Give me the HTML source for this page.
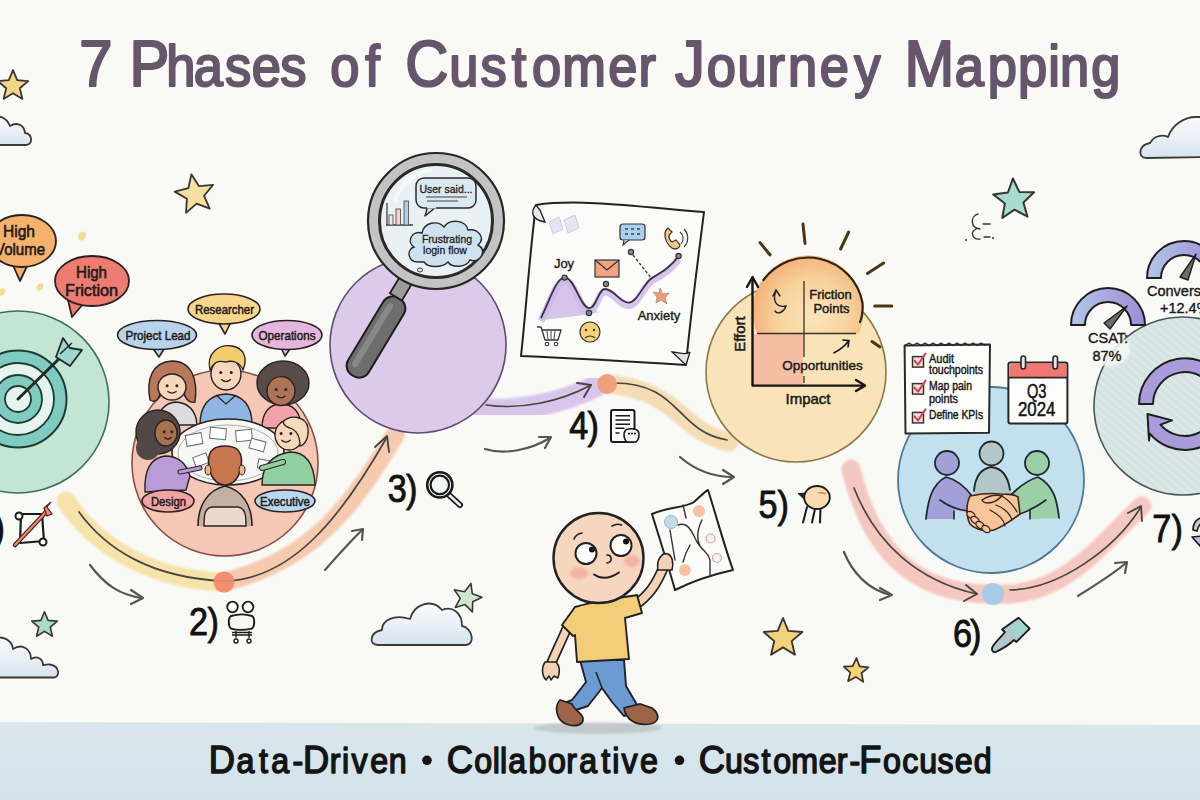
<!DOCTYPE html>
<html><head><meta charset="utf-8"><title>7 Phases of Customer Journey Mapping</title>
<style>
html,body{margin:0;padding:0;background:#f9f9f5;}
body{width:1200px;height:800px;overflow:hidden;font-family:"Liberation Sans",sans-serif;}
svg{display:block;}
svg text{font-family:"Liberation Sans",sans-serif;}
</style></head>
<body>
<svg width="1200" height="800" viewBox="0 0 1200 800">
<defs>
  <pattern id="hatch" width="6" height="6" patternUnits="userSpaceOnUse" patternTransform="rotate(-50)"><rect width="6" height="6" fill="none"/><rect width="1.6" height="6" fill="#ffffff" opacity="0.5"/></pattern>
  <linearGradient id="cloudg" x1="0" y1="0" x2="0" y2="1"><stop offset="0" stop-color="#f8fafc"/><stop offset="0.55" stop-color="#e8eff5"/><stop offset="1" stop-color="#d6e3ee"/></linearGradient>
  <filter id="soft" x="-20%" y="-20%" width="140%" height="140%"><feGaussianBlur stdDeviation="1.2"/></filter>
  <linearGradient id="band" x1="0" y1="0" x2="0" y2="1">
    <stop offset="0" stop-color="#d9e7ec"/>
    <stop offset="0.5" stop-color="#d6e5eb"/>
    <stop offset="1" stop-color="#d3e3ea"/>
  </linearGradient>
</defs>
<rect x="0" y="0" width="1200" height="800" fill="#f9f9f5"/>
<path d="M0,722 L1200,725 L1200,800 L0,800 Z" fill="url(#band)"/>
<text transform="scale(0.92,1)" y="86" fill="#66566c" stroke="#66566c" stroke-width="2.2" stroke-linejoin="round"><tspan x="86.13" font-size="65">7</tspan></text>
<text transform="scale(0.92,1)" y="86" fill="#66566c" stroke="#66566c" stroke-width="2.2" stroke-linejoin="round"><tspan x="140.65" font-size="65">P</tspan><tspan x="180.63" font-size="57">h</tspan><tspan x="210.60" font-size="57">a</tspan><tspan x="244.57" font-size="57">s</tspan><tspan x="273.55" font-size="57">e</tspan><tspan x="304.52" font-size="57">s</tspan></text>
<text transform="scale(0.92,1)" y="86" fill="#66566c" stroke="#66566c" stroke-width="2.2" stroke-linejoin="round"><tspan x="358.87" font-size="57">o</tspan><tspan x="397.04" font-size="57">f</tspan></text>
<text transform="scale(0.92,1)" y="86" fill="#66566c" stroke="#66566c" stroke-width="2.2" stroke-linejoin="round"><tspan x="440.48" font-size="65">C</tspan><tspan x="488.40" font-size="57">u</tspan><tspan x="522.33" font-size="57">s</tspan><tspan x="556.25" font-size="57">t</tspan><tspan x="578.18" font-size="57">o</tspan><tspan x="611.11" font-size="57">m</tspan><tspan x="661.03" font-size="57">e</tspan><tspan x="693.96" font-size="57">r</tspan></text>
<text transform="scale(0.92,1)" y="86" fill="#66566c" stroke="#66566c" stroke-width="2.2" stroke-linejoin="round"><tspan x="733.78" font-size="65">J</tspan><tspan x="768.24" font-size="57">o</tspan><tspan x="801.70" font-size="57">u</tspan><tspan x="834.15" font-size="57">r</tspan><tspan x="856.61" font-size="57">n</tspan><tspan x="891.07" font-size="57">e</tspan><tspan x="928.52" font-size="57">y</tspan></text>
<text transform="scale(0.92,1)" y="86" fill="#66566c" stroke="#66566c" stroke-width="2.2" stroke-linejoin="round"><tspan x="983.04" font-size="65">M</tspan><tspan x="1037.89" font-size="57">a</tspan><tspan x="1073.74" font-size="57">p</tspan><tspan x="1106.59" font-size="57">p</tspan><tspan x="1139.43" font-size="57">i</tspan><tspan x="1152.28" font-size="57">n</tspan><tspan x="1186.13" font-size="57">g</tspan></text>
<path d="M66,501 C95,545 150,580 224,582" fill="none" stroke="#f6e09c" stroke-width="19" stroke-linecap="round" opacity="0.85" filter="url(#soft)"/>
<path d="M224,582 C309,561 350,511 395,435" fill="none" stroke="#f6c2a2" stroke-width="19" stroke-linecap="round" opacity="0.85" filter="url(#soft)"/>
<path d="M79,512 C105,548 150,578 224,581 C290,580 340,520 387,437" fill="none" stroke="#4a4440" stroke-width="1.7" stroke-linecap="round"/>
<path d="M375,447 L387,436 L389,452" fill="none" stroke="#4a4440" stroke-width="1.9" stroke-linecap="round" stroke-linejoin="round"/>
<path d="M470,408 C510,414 560,405 600,384" fill="none" stroke="#d3bde9" stroke-width="22" stroke-linecap="round" opacity="0.85" filter="url(#soft)"/>
<path d="M486,405 C520,410 560,402 591,385" fill="none" stroke="#4a4440" stroke-width="1.7" stroke-linecap="round"/>
<path d="M577,383 L591,385 L584,397" fill="none" stroke="#4a4440" stroke-width="1.9" stroke-linecap="round" stroke-linejoin="round"/>
<path d="M607,384 C680,390 681,433 729,442" fill="none" stroke="#f3d9ab" stroke-width="19" stroke-linecap="round" opacity="0.85" filter="url(#soft)"/>
<path d="M612,383 C681,382 675,431 727,440" fill="none" stroke="#4a4440" stroke-width="1.7" stroke-linecap="round"/>
<path d="M851,469 C868,540 906,595 994,594" fill="none" stroke="#f4c0b8" stroke-width="19" stroke-linecap="round" opacity="0.85" filter="url(#soft)"/>
<path d="M994,594 C1063,599 1100,544 1142,506" fill="none" stroke="#f4c0b8" stroke-width="19" stroke-linecap="round" opacity="0.85" filter="url(#soft)"/>
<path d="M854,488 C876,544 918,581 977,594" fill="none" stroke="#4a4440" stroke-width="1.7" stroke-linecap="round"/>
<path d="M966,585 L977,594 L964,601" fill="none" stroke="#4a4440" stroke-width="1.9" stroke-linecap="round" stroke-linejoin="round"/>
<path d="M1010,590 C1059,589 1115,549 1141,507" fill="none" stroke="#4a4440" stroke-width="1.7" stroke-linecap="round"/>
<path d="M1128,513 L1141,506 L1142,521" fill="none" stroke="#4a4440" stroke-width="1.9" stroke-linecap="round" stroke-linejoin="round"/>
<circle cx="18" cy="402" r="91" fill="#c3e5d4" stroke="#3f6e5e" stroke-width="1.6"/>
<circle cx="225" cy="463" r="93" fill="#f5c8b5" stroke="#8c4c42" stroke-width="1.6"/>
<circle cx="418" cy="345" r="88" fill="#dccaea" stroke="#5f4a78" stroke-width="1.6"/>
<circle cx="796" cy="372" r="90" fill="#f8e4b8" stroke="#8a7848" stroke-width="1.6"/>
<circle cx="991" cy="480" r="93" fill="#c3e0ef" stroke="#4f7896" stroke-width="1.8"/>
<circle cx="1183" cy="406" r="89" fill="#d5e3e3"/><circle cx="1183" cy="406" r="89" fill="url(#hatch)" opacity="0.5"/><circle cx="1183" cy="406" r="89" fill="none" stroke="#46585a" stroke-width="1.6"/>
<circle cx="224" cy="582" r="10.5" fill="#f08a70" opacity="0.95"/>
<circle cx="607" cy="384" r="10" fill="#f0a07c"/>
<circle cx="993" cy="594" r="11" fill="#a8cbe6"/>
<circle cx="18" cy="399" r="48.5" fill="#7fcbbf" stroke="#1f3a35" stroke-width="2"/>
<circle cx="18" cy="399" r="36" fill="#e6f4ee" stroke="#1f3a35" stroke-width="1.8"/>
<circle cx="18" cy="399" r="24" fill="#7fcbbf" stroke="#1f3a35" stroke-width="1.8"/>
<circle cx="18" cy="399" r="13" fill="#e6f4ee" stroke="#1f3a35" stroke-width="1.8"/>
<line x1="18" y1="399" x2="66" y2="352" stroke="#1f2a28" stroke-width="3" stroke-linecap="round"/>
<path d="M56,357 L63,338 L70,348 L82,350 L70,366 Z" fill="#9fd6cc" stroke="#1f2a28" stroke-width="1.8" stroke-linejoin="round"/>
<path d="M60,354 L72,343" stroke="#1f2a28" stroke-width="1.5"/>
<path d="M12,263 L20,281 L28,264 Z" fill="#f6b26c" stroke="#2a2220" stroke-width="1.8" stroke-linejoin="round"/>
<ellipse cx="22" cy="241" rx="34" ry="26" fill="#f6b26c" stroke="#2a2220" stroke-width="1.8"/>
<path d="M13,260 L27,261" stroke="#f6b26c" stroke-width="5"/>
<text x="19" y="237" font-size="16" fill="#231c18" text-anchor="middle" stroke="#231c18" stroke-width="0.6" stroke-linejoin="round" textLength="32" lengthAdjust="spacingAndGlyphs">High</text>
<text x="20" y="255" font-size="16" fill="#231c18" text-anchor="middle" stroke="#231c18" stroke-width="0.6" stroke-linejoin="round" textLength="50" lengthAdjust="spacingAndGlyphs">Volume</text>
<path d="M68,300 L72,317 L84,303 Z" fill="#ee7c72" stroke="#2a2220" stroke-width="1.8" stroke-linejoin="round"/>
<ellipse cx="92" cy="281" rx="37" ry="25" fill="#ee7c72" stroke="#2a2220" stroke-width="1.8"/>
<path d="M69,297 L83,300" stroke="#ee7c72" stroke-width="5"/>
<text x="91.5" y="278" font-size="16" fill="#231c18" text-anchor="middle" stroke="#231c18" stroke-width="0.6" stroke-linejoin="round" textLength="31" lengthAdjust="spacingAndGlyphs">High</text>
<text x="91.5" y="296" font-size="16" fill="#231c18" text-anchor="middle" stroke="#231c18" stroke-width="0.6" stroke-linejoin="round" textLength="53" lengthAdjust="spacingAndGlyphs">Friction</text>
<ellipse cx="82" cy="236" rx="3.5" ry="4.55" fill="#f3d27a" opacity="0.8" transform="rotate(30 82 236)"/>
<ellipse cx="40" cy="287" rx="3" ry="3.9000000000000004" fill="#f3d27a" opacity="0.8" transform="rotate(30 40 287)"/>
<ellipse cx="2" cy="292" rx="3" ry="3.9000000000000004" fill="#f3d27a" opacity="0.8" transform="rotate(30 2 292)"/>
<path d="M21,514 L42,514 L44,541 L20,543 Z" fill="none" stroke="#1a1a1a" stroke-width="2.2" stroke-linejoin="round"/>
<circle cx="19" cy="516" r="3.5" fill="#fff" stroke="#1a1a1a" stroke-width="2"/>
<circle cx="43" cy="542" r="3.5" fill="#fff" stroke="#1a1a1a" stroke-width="2"/>
<path d="M15,545 L46,512" stroke="#5a2018" stroke-width="4.5" stroke-linecap="round"/>
<path d="M15,545 L46,512" stroke="#e88a78" stroke-width="2" stroke-linecap="round"/>
<path d="M44,508 L47,516 L52,514 L47,507 L51,502 Z" fill="#e88a78" stroke="#5a2018" stroke-width="1.2"/>
<path d="M158,425 C158,410 165,403 176,402 C188,403 196,410 197,425 Z" fill="#dcdcdc" stroke="#2a2220" stroke-width="1.4"/>
<path d="M150,400 C146,380 152,362 172,361 C192,361 198,380 195,402 C188,404 184,396 184,392 L160,392 C160,398 156,404 150,400 Z" fill="#b9775b" stroke="#2a2220" stroke-width="1.4"/>
<ellipse cx="172" cy="387" rx="14" ry="13" fill="#f7d6bb" stroke="#2a2220" stroke-width="1.4"/>
<circle cx="167.1" cy="385.7" r="1.5" fill="#2a2220"/>
<circle cx="176.9" cy="385.7" r="1.5" fill="#2a2220"/>
<path d="M167.8,391.55 Q172,394.8 176.2,391.55" fill="none" stroke="#2a2220" stroke-width="1.3" stroke-linecap="round"/>
<path d="M158,382 C162,372 172,368 186,378 C183,370 176,366 170,367 C162,369 158,375 158,382 Z" fill="#b9775b"/>
<path d="M200,425 C200,404 210,395 226,394 C242,395 252,404 252,425 Z" fill="#8fb6e2" stroke="#2a2220" stroke-width="1.4"/>
<path d="M216,395 L226,404 L236,395" fill="none" stroke="#2a2220" stroke-width="1.2"/>
<ellipse cx="226" cy="374" rx="15" ry="16" fill="#f7d6bb" stroke="#2a2220" stroke-width="1.4"/>
<circle cx="220.75" cy="372.4" r="1.5" fill="#2a2220"/>
<circle cx="231.25" cy="372.4" r="1.5" fill="#2a2220"/>
<path d="M221.5,379.6 Q226,383.6 230.5,379.6" fill="none" stroke="#2a2220" stroke-width="1.3" stroke-linecap="round"/>
<path d="M210,370 C206,354 218,344 232,346 C244,348 248,358 243,370 C240,362 232,360 226,362 C218,360 214,362 210,370 Z" fill="#f2cd6c" stroke="#2a2220" stroke-width="1.3"/>
<path d="M262,428 C262,412 270,404 281,404 C293,404 301,412 301,428 Z" fill="#f2a2aa" stroke="#2a2220" stroke-width="1.4"/>
<ellipse cx="283" cy="383" rx="26" ry="22" fill="#574c4a" stroke="#2a2220" stroke-width="1.4"/>
<ellipse cx="281" cy="391" rx="14" ry="14.5" fill="#ad7555" stroke="#2a2220" stroke-width="1.4"/>
<circle cx="276.1" cy="389.55" r="1.5" fill="#2a2220"/>
<circle cx="285.9" cy="389.55" r="1.5" fill="#2a2220"/>
<path d="M276.8,396.075 Q281,399.7 285.2,396.075" fill="none" stroke="#2a2220" stroke-width="1.3" stroke-linecap="round"/>
<path d="M267,386 C268,374 282,370 294,378 C290,374 272,374 267,386 Z" fill="#574c4a"/>
<ellipse cx="228" cy="452" rx="56" ry="33" fill="#f6f6f4" stroke="#2a2220" stroke-width="1.6"/>
<ellipse cx="228" cy="453" rx="50" ry="28" fill="none" stroke="#9a9a9a" stroke-width="0.8"/>
<rect x="186" y="434" width="16" height="11" fill="#ffffff" stroke="#6a6a6a" stroke-width="1" transform="rotate(-10 194.0 439.5)"/>
<rect x="210" y="428" width="16" height="11" fill="#ffffff" stroke="#6a6a6a" stroke-width="1" transform="rotate(5 218.0 433.5)"/>
<rect x="236" y="430" width="16" height="11" fill="#ffffff" stroke="#6a6a6a" stroke-width="1" transform="rotate(-5 244.0 435.5)"/>
<rect x="250" y="440" width="15" height="10" fill="#ffffff" stroke="#6a6a6a" stroke-width="1" transform="rotate(15 257.5 445.0)"/>
<rect x="194" y="455" width="14" height="10" fill="#ffffff" stroke="#6a6a6a" stroke-width="1" transform="rotate(-20 201.0 460.0)"/>
<rect x="258" y="460" width="14" height="9" fill="#ffffff" stroke="#6a6a6a" stroke-width="1" transform="rotate(10 265.0 464.5)"/>
<rect x="215" y="450" width="12" height="8" fill="#ffffff" stroke="#6a6a6a" stroke-width="1" transform="rotate(0 221.0 454.0)"/>
<path d="M145,492 C144,470 150,458 165,456 C178,456 186,462 190,476 L186,490 Z" fill="#b99bd7" stroke="#2a2220" stroke-width="1.4"/>
<path d="M180,472 L200,468" stroke="#2a2220" stroke-width="5" stroke-linecap="round"/><path d="M180,472 L200,468" stroke="#b99bd7" stroke-width="3" stroke-linecap="round"/>
<circle cx="158" cy="432" r="22" fill="#524747" stroke="#2a2220" stroke-width="1.4"/>
<circle cx="148" cy="448" r="12" fill="#524747"/>
<ellipse cx="166" cy="433" rx="11" ry="13" fill="#a9714f" stroke="#2a2220" stroke-width="1.4"/>
<circle cx="164.15" cy="431.7" r="1.5" fill="#2a2220"/>
<circle cx="171.85" cy="431.7" r="1.5" fill="#2a2220"/>
<path d="M164.7,437.55 Q168,440.8 171.3,437.55" fill="none" stroke="#2a2220" stroke-width="1.3" stroke-linecap="round"/>
<path d="M262,485 C262,468 270,455 290,452 C305,452 314,462 315,485 Z" fill="#92d0a2" stroke="#2a2220" stroke-width="1.4"/>
<path d="M262,468 L283,462" stroke="#2a2220" stroke-width="6" stroke-linecap="round"/><path d="M262,468 L283,462" stroke="#92d0a2" stroke-width="4" stroke-linecap="round"/>
<ellipse cx="289" cy="435" rx="14" ry="15" fill="#f7d6bb" stroke="#2a2220" stroke-width="1.4"/>
<circle cx="281.1" cy="433.5" r="1.5" fill="#2a2220"/>
<circle cx="290.9" cy="433.5" r="1.5" fill="#2a2220"/>
<path d="M281.8,440.25 Q286,444.0 290.2,440.25" fill="none" stroke="#2a2220" stroke-width="1.3" stroke-linecap="round"/>
<path d="M283,422 C290,414 306,416 308,428 C309,438 305,445 300,446 C300,436 296,430 290,428 C286,427 284,425 283,422 Z" fill="#f3dcb8" stroke="#2a2220" stroke-width="1.3"/>
<path d="M198,526 C198,505 208,490 225,486 C242,490 252,505 252,526" fill="#c4afa2" stroke="#2a2220" stroke-width="1.6"/>
<path d="M204,526 C204,514 205,508 212,507 L238,507 C245,508 246,514 246,526 Z" fill="#ead9cc" stroke="#2a2220" stroke-width="1.4"/>
<path d="M208.5,462 C208,450 215,446 225,446 C235,446 242,450 241.5,462 C241,476 234,485 225,485 C216,485 209,476 208.5,462 Z" fill="#c8764e" stroke="#2a2220" stroke-width="1.6"/>
<ellipse cx="208" cy="470" rx="3" ry="5" fill="#e9b694" stroke="#2a2220" stroke-width="1"/><ellipse cx="242" cy="470" rx="3" ry="5" fill="#e9b694" stroke="#2a2220" stroke-width="1"/>
<path d="M217,320 L225,334 L232,320 Z" fill="#f6d68c" stroke="#2a2220" stroke-width="1.6" stroke-linejoin="round"/>
<ellipse cx="224" cy="309" rx="36" ry="15" fill="#f6d68c" stroke="#2a2220" stroke-width="1.6"/>
<path d="M218,317 L231,317" stroke="#f6d68c" stroke-width="5"/>
<text x="224.5" y="314" font-size="13" fill="#231c18" text-anchor="middle" stroke="#231c18" stroke-width="0.5" stroke-linejoin="round" textLength="59" lengthAdjust="spacingAndGlyphs">Researcher</text>
<path d="M151,346 L159,357 L166,346 Z" fill="#b6d3eb" stroke="#2a2220" stroke-width="1.6" stroke-linejoin="round"/>
<ellipse cx="157" cy="335" rx="39.5" ry="14.5" fill="#b6d3eb" stroke="#2a2220" stroke-width="1.6"/>
<path d="M152,343 L165,343" stroke="#b6d3eb" stroke-width="5"/>
<text x="158" y="340" font-size="13" fill="#231c18" text-anchor="middle" stroke="#231c18" stroke-width="0.5" stroke-linejoin="round" textLength="65" lengthAdjust="spacingAndGlyphs">Project Lead</text>
<path d="M280,346 L285,356 L292,346 Z" fill="#e3b7dd" stroke="#2a2220" stroke-width="1.6" stroke-linejoin="round"/>
<ellipse cx="287" cy="335" rx="35" ry="14.5" fill="#e3b7dd" stroke="#2a2220" stroke-width="1.6"/>
<path d="M281,343 L291,343" stroke="#e3b7dd" stroke-width="5"/>
<text x="287" y="340" font-size="13" fill="#231c18" text-anchor="middle" stroke="#231c18" stroke-width="0.5" stroke-linejoin="round" textLength="57" lengthAdjust="spacingAndGlyphs">Operations</text>
<ellipse cx="168" cy="501" rx="26" ry="11" fill="#f2a3a3" stroke="#2a2220" stroke-width="1.6"/>
<text x="168.5" y="505.5" font-size="12.5" fill="#231c18" text-anchor="middle" stroke="#231c18" stroke-width="0.5" stroke-linejoin="round" textLength="35" lengthAdjust="spacingAndGlyphs">Design</text>
<ellipse cx="285" cy="501" rx="30" ry="11" fill="#b8d8ef" stroke="#2a2220" stroke-width="1.6"/>
<text x="285" y="505.5" font-size="12.5" fill="#231c18" text-anchor="middle" stroke="#231c18" stroke-width="0.5" stroke-linejoin="round" textLength="50" lengthAdjust="spacingAndGlyphs">Executive</text>
<g transform="rotate(31 376 337)"><rect x="364" y="292" width="24" height="90" rx="11" fill="#6e6e6e" stroke="#1e1e1e" stroke-width="2"/><rect x="369" y="300" width="6" height="74" rx="3" fill="#8e8e8e" opacity="0.8"/></g>
<g transform="rotate(31 400 290)"><rect x="393" y="276" width="14" height="22" fill="#9c9c9c" stroke="#1e1e1e" stroke-width="1.8"/></g>
<circle cx="436" cy="221" r="68" fill="#c3c3c3" stroke="#262626" stroke-width="2.2"/>
<circle cx="436" cy="221" r="56.5" fill="#e9f1f4" stroke="#2a2a2a" stroke-width="3"/>
<path d="M395,200 A45,45 0 0 1 430,170" fill="none" stroke="#ffffff" stroke-width="4" opacity="0.6" stroke-linecap="round"/>
<path d="M386,225 L413,225" stroke="#333" stroke-width="1.4"/><path d="M387,203 L387,225" stroke="#333" stroke-width="1.2"/>
<rect x="389" y="215" width="4" height="10" fill="#f3e6e0" stroke="#555" stroke-width="0.9"/>
<rect x="396" y="209" width="4.5" height="16" fill="#f5d2cc" stroke="#555" stroke-width="0.9"/>
<rect x="404" y="201" width="4.5" height="24" fill="#b6cde0" stroke="#555" stroke-width="0.9"/>
<path d="M428,206 L425,216 L436,207 Z" fill="#dbe9f3" stroke="#2a2a2a" stroke-width="1.5" stroke-linejoin="round"/>
<rect x="416" y="178" width="60" height="30" rx="8" fill="#dbe9f3" stroke="#2a2a2a" stroke-width="1.5"/>
<path d="M427,207 L436,207" stroke="#dbe9f3" stroke-width="3"/>
<text x="446" y="193" font-size="10.5" fill="#222" text-anchor="middle" stroke="#222" stroke-width="0.3" stroke-linejoin="round" >User said...</text>
<path d="M426,197 L467,197 M427,201 L458,201" stroke="#444" stroke-width="1.1"/>
<path d="M418,262 C408,262 406,250 414,247 C406,242 412,230 422,233 C424,222 438,220 444,227 C450,218 466,220 468,230 C478,228 486,238 478,245 C488,250 480,264 470,260 C466,268 452,268 448,262 C442,268 428,268 424,262 Z" fill="#cfe2f0" stroke="#2a2a2a" stroke-width="1.4"/>
<text x="447" y="243" font-size="10.5" fill="#222" text-anchor="middle" stroke="#222" stroke-width="0.3" stroke-linejoin="round" >Frustrating</text>
<text x="445" y="254" font-size="10.5" fill="#222" text-anchor="middle" stroke="#222" stroke-width="0.3" stroke-linejoin="round" >login flow</text>
<ellipse cx="420" cy="270" rx="2.5" ry="2" fill="none" stroke="#333" stroke-width="1"/>
<path d="M536,205 C580,198 650,208 704,212 C698,260 690,320 686,365 C640,362 570,358 521,356 C526,310 530,250 536,205 Z" fill="#fbfbf9" stroke="#222" stroke-width="2" stroke-linejoin="round"/>
<path d="M536,205 C530,212 532,220 545,222 L540,210 Z" fill="#e8e8e8" stroke="#222" stroke-width="1.4"/>
<path d="M686,365 L672,352 C678,352 686,356 690,352 Z" fill="#e4e4e4" stroke="#222" stroke-width="1.3"/>
<path d="M549,222 L559,217 L563,229 L553,234 Z M564,220 L575,215 L579,228 L568,233 Z" fill="#e6e4ee" stroke="#cfcbe0" stroke-width="1"/>
<path d="M541,318 C550,300 556,278 564.6,277.6 C574,277 580,306 588.4,308 C592,309 596,312 600,312 C580,316 560,318 541,320 Z" fill="#c9b2e4" opacity="0.75"/>
<path d="M541,318 C550,300 556,278 564.6,277.6 C574,277 580,306 588.4,308 C596,310 598,289 605,289 C614,289 620,303 628.8,302.6 C638,302 644,282 652.5,277.6 C662,272 672,266 678.6,256" fill="none" stroke="#cdb6e6" stroke-width="7" opacity="0.8" transform="translate(0,3)"/>
<path d="M541,318 C550,300 556,278 564.6,277.6 C574,277 580,306 588.4,308 C596,310 598,289 605,289 C614,289 620,303 628.8,302.6 C638,302 644,282 652.5,277.6 C662,272 672,266 678.6,256" fill="none" stroke="#3a3048" stroke-width="1.8"/>
<circle cx="564.6" cy="277.6" r="2.6" fill="#8a8a8a" stroke="#333" stroke-width="1.2"/>
<circle cx="589" cy="313" r="2.6" fill="#8a8a8a" stroke="#333" stroke-width="1.2"/>
<circle cx="606" cy="284" r="2.6" fill="#8a8a8a" stroke="#333" stroke-width="1.2"/>
<circle cx="631" cy="252" r="2.6" fill="#8a8a8a" stroke="#333" stroke-width="1.2"/>
<circle cx="678.6" cy="256" r="2.6" fill="#8a8a8a" stroke="#333" stroke-width="1.2"/>
<path d="M633,255 L652,279" stroke="#333" stroke-width="1.3" stroke-dasharray="3,2"/>
<text x="564" y="268" font-size="13" fill="#1e1e1e" text-anchor="middle" stroke="#1e1e1e" stroke-width="0.4" stroke-linejoin="round" >Joy</text>
<text x="659" y="320" font-size="13" fill="#1e1e1e" text-anchor="middle" stroke="#1e1e1e" stroke-width="0.4" stroke-linejoin="round" >Anxiety</text>
<rect x="595" y="260" width="24" height="17" fill="#f2a283" stroke="#333" stroke-width="1.2"/><path d="M595,260 L607,270 L619,260" fill="none" stroke="#333" stroke-width="1.2"/>
<rect x="620" y="224" width="25" height="16" rx="3" fill="#a9d0ee" stroke="#333" stroke-width="1.2"/><path d="M624,240 L623,245 L629,240" fill="#a9d0ee" stroke="#333" stroke-width="1.1"/>
<path d="M625,229 h3 m3,0 h3 m3,0 h3 M625,234 h3 m3,0 h3 m3,0 h3" stroke="#345" stroke-width="1.6"/>
<path d="M668,228 C663,232 664,242 672,248 C676,250 680,248 680,245 L676,240 L672,242 C669,240 668,236 670,234 L672,232 Z" fill="#f3c986" stroke="#333" stroke-width="1.2"/>
<path d="M680,232 C684,235 684,240 681,244 M684,229 C689,234 689,242 684,247" fill="none" stroke="#333" stroke-width="1.1"/>
<circle cx="590" cy="332" r="10" fill="#f5d278" stroke="#333" stroke-width="1.2"/><circle cx="586" cy="330" r="1.2" fill="#333"/><circle cx="594" cy="330" r="1.2" fill="#333"/><path d="M585,338 Q590,334 595,338" fill="none" stroke="#333" stroke-width="1.2"/>
<path d="M537,327 L541,327 L545,340 L558,340 L561,330 L542,330" fill="none" stroke="#333" stroke-width="1.3" stroke-linejoin="round"/><circle cx="547" cy="344" r="1.8" fill="none" stroke="#333" stroke-width="1.1"/><circle cx="556" cy="344" r="1.8" fill="none" stroke="#333" stroke-width="1.1"/>
<path d="M547,331 L548,339 M551,331 L551,339 M555,331 L554,339" stroke="#333" stroke-width="0.9"/>
<path d="M660,288 L663,294 L669,293 L665,298 L667,304 L661,300 L656,303 L657,297 L653,292 L659,293 Z" fill="#f09a7e" stroke="#884" stroke-width="0.6"/>
<path d="M760,242.6 L770,254.8" stroke="#4a3612" stroke-width="3" stroke-linecap="round"/>
<path d="M803,224 L805,243.4" stroke="#4a3612" stroke-width="3" stroke-linecap="round"/>
<path d="M848.7,232 L840.6,249" stroke="#4a3612" stroke-width="3" stroke-linecap="round"/>
<path d="M883.6,263 L867.4,273.5" stroke="#4a3612" stroke-width="3" stroke-linecap="round"/>
<path d="M891.8,306 L874.7,306" stroke="#4a3612" stroke-width="3" stroke-linecap="round"/>
<path d="M872,341.6 L880,347" stroke="#4a3612" stroke-width="3" stroke-linecap="round"/>
<defs><radialGradient id="sun" cx="0.55" cy="0.55" r="0.6"><stop offset="0" stop-color="#fbe5bc"/><stop offset="0.55" stop-color="#f8d29c"/><stop offset="1" stop-color="#f2ad76"/></radialGradient><clipPath id="sunclip"><rect x="700" y="200" width="200" height="133.5"/></clipPath></defs>
<circle cx="808" cy="311" r="55.5" fill="url(#sun)" clip-path="url(#sunclip)"/>
<path d="M763.4,280 A55.5,55.5 0 0 1 862.5,302.7 C863,312 862,318 860,322" fill="none" stroke="#2e2214" stroke-width="2.2" stroke-linecap="round"/>
<rect x="753" y="334" width="50" height="51" fill="#f1a496" opacity="0.6"/>
<path d="M752.5,279 L752.5,385.6 L864,385.6" fill="none" stroke="#151515" stroke-width="2.4" stroke-linejoin="round"/>
<path d="M747,287 L752.5,277 L758,287 M856,380 L865,385.6 L856,391" fill="none" stroke="#151515" stroke-width="2.4" stroke-linecap="round" stroke-linejoin="round"/>
<path d="M804,281 L804,357 M804,376 L804,383 M757,333.5 L856,333.5" stroke="#3a3028" stroke-width="1.3"/>
<text x="830.5" y="298.7" font-size="13" fill="#1a1a1a" text-anchor="middle" stroke="#1a1a1a" stroke-width="0.45" stroke-linejoin="round" >Friction</text>
<text x="831.5" y="312.5" font-size="13" fill="#1a1a1a" text-anchor="middle" stroke="#1a1a1a" stroke-width="0.45" stroke-linejoin="round" >Points</text>
<text x="822.5" y="369.7" font-size="13.5" fill="#1a1a1a" text-anchor="middle" stroke="#1a1a1a" stroke-width="0.45" stroke-linejoin="round" >Opportunities</text>
<text x="808" y="404.4" font-size="15" fill="#1a1a1a" text-anchor="middle" stroke="#1a1a1a" stroke-width="0.5" stroke-linejoin="round" >Impact</text>
<text x="0" y="0" font-size="15" fill="#1a1a1a" text-anchor="middle" stroke="#1a1a1a" stroke-width="0.5" stroke-linejoin="round" transform="translate(745,334) rotate(-90)">Effort</text>
<path d="M834,352.8 C840,350 845,346 849,340.6 M843,340 L849,340.6 L848,347" fill="none" stroke="#151515" stroke-width="1.6" stroke-linecap="round"/>
<path d="M773,296 L776,290 L780,296 M776,291 C772,300 776,308 786,306 C784,312 778,315 775,311" fill="none" stroke="#222" stroke-width="1.4" stroke-linecap="round"/>
<path d="M974,492 C975,478 980,469 991,467 C1002,468 1008,476 1010,490 L1010,500 L974,500 Z" fill="#b3c7cb" stroke="none"/>
<path d="M974,491 C975,478 980,469 991,467 C1002,468 1008,476 1010,490" fill="none" stroke="#1f2a2e" stroke-width="1.8" stroke-linecap="round"/>
<circle cx="991.5" cy="453.5" r="12" fill="#b3c7cb" stroke="#1f2a2e" stroke-width="1.8"/>
<path d="M926,519 C928,500 932,484 946,477 C958,480 966,488 972,496 L968,512 L954,510 L954,519 Z" fill="#a39fd9"/>
<path d="M926,519 C928,500 932,484 946,477 C958,480 966,488 972,496" fill="none" stroke="#1f2a2e" stroke-width="1.8" stroke-linecap="round"/>
<path d="M940,500 C948,506 958,510 968,511 M954,511 L954,519" fill="none" stroke="#1f2a2e" stroke-width="1.6" stroke-linecap="round"/>
<circle cx="947" cy="463" r="12" fill="#a39fd9" stroke="#1f2a2e" stroke-width="1.8"/>
<path d="M1059,518 C1057,500 1054,486 1038,477 C1028,480 1018,488 1012,494 L1020,514 L1030,508 L1030,519 Z" fill="#9bcfa7"/>
<path d="M1059,518 C1057,500 1054,486 1038,477 C1028,480 1018,488 1012,494" fill="none" stroke="#1f2a2e" stroke-width="1.8" stroke-linecap="round"/>
<path d="M1046,500 C1038,506 1028,511 1020,514 M1030,509 L1030,519" fill="none" stroke="#1f2a2e" stroke-width="1.6" stroke-linecap="round"/>
<circle cx="1037" cy="463" r="12" fill="#9bcfa7" stroke="#1f2a2e" stroke-width="1.8"/>
<path d="M970,496 C980,494 992,493 1000,494 C1008,494 1014,494 1018,497 L1020,514 C1012,520 1004,526 994,530 C986,532 976,530 970,524 C966,516 966,504 970,496 Z" fill="#f6c59a" stroke="#3a2418" stroke-width="1.6" stroke-linejoin="round"/>
<path d="M982,500 C988,496 994,494 1002,496 C998,500 994,503 988,503 C985,503 983,502 982,500 Z" fill="#f6c59a" stroke="#3a2418" stroke-width="1.5"/>
<path d="M1002,496 C1008,500 1014,506 1017,512 M996,505 C1004,508 1010,514 1012,520 M990,510 C998,514 1004,520 1005,526" fill="none" stroke="#3a2418" stroke-width="1.3" stroke-linecap="round"/>
<ellipse cx="971" cy="515" rx="4.5" ry="3" fill="#f6c59a" stroke="#3a2418" stroke-width="1.3" transform="rotate(35 971 515)"/>
<ellipse cx="975" cy="520" rx="4.5" ry="3" fill="#f6c59a" stroke="#3a2418" stroke-width="1.3" transform="rotate(35 975 520)"/>
<ellipse cx="980" cy="525" rx="4.5" ry="3" fill="#f6c59a" stroke="#3a2418" stroke-width="1.3" transform="rotate(35 980 525)"/>
<ellipse cx="986" cy="529" rx="4.5" ry="3" fill="#f6c59a" stroke="#3a2418" stroke-width="1.3" transform="rotate(35 986 529)"/>
<path d="M904.6,345.5 L990,344.5 L989,432.8 L905.5,433.5 Z" fill="#fdfdfb" stroke="#2a2a2a" stroke-width="2" stroke-linejoin="round"/>
<path d="M905,345.5 l4,-2.5 l4,2.5 l4,-2.5 l4,2.5 l4,-2.5 l4,2.5 l4,-2.5 l4,2.5 l4,-2.5 l4,2.5 l4,-2.5 l4,2.5 l4,-2.5 l4,2.5 l4,-2.5 l4,2.5 l4,-2.5 l4,2.5 l4,-2.5 l4,2.5" fill="none" stroke="#2a2a2a" stroke-width="1.2"/>
<rect x="912.5" y="356.6" width="11" height="10.5" fill="#f3dede" stroke="#333" stroke-width="1.5"/>
<path d="M914.5,360.6 L918,364.6 L925.5,353.6" fill="none" stroke="#d8404e" stroke-width="2" stroke-linecap="round" stroke-linejoin="round"/>
<rect x="912.5" y="383.6" width="11" height="10.5" fill="#f3dede" stroke="#333" stroke-width="1.5"/>
<path d="M914.5,387.6 L918,391.6 L925.5,380.6" fill="none" stroke="#d8404e" stroke-width="2" stroke-linecap="round" stroke-linejoin="round"/>
<rect x="912.5" y="412.4" width="11" height="10.5" fill="#f3dede" stroke="#333" stroke-width="1.5"/>
<path d="M914.5,416.4 L918,420.4 L925.5,409.4" fill="none" stroke="#d8404e" stroke-width="2" stroke-linecap="round" stroke-linejoin="round"/>
<text x="929" y="363.2" font-size="12.5" fill="#1a1a1a" text-anchor="start" stroke="#1a1a1a" stroke-width="0.45" stroke-linejoin="round" textLength="25" lengthAdjust="spacingAndGlyphs">Audit</text>
<text x="929" y="374.4" font-size="12.5" fill="#1a1a1a" text-anchor="start" stroke="#1a1a1a" stroke-width="0.45" stroke-linejoin="round" textLength="54" lengthAdjust="spacingAndGlyphs">touchpoints</text>
<text x="929" y="390" font-size="12.5" fill="#1a1a1a" text-anchor="start" stroke="#1a1a1a" stroke-width="0.45" stroke-linejoin="round" textLength="43" lengthAdjust="spacingAndGlyphs">Map pain</text>
<text x="929" y="403" font-size="12.5" fill="#1a1a1a" text-anchor="start" stroke="#1a1a1a" stroke-width="0.45" stroke-linejoin="round" textLength="29" lengthAdjust="spacingAndGlyphs">points</text>
<text x="929" y="419" font-size="12.5" fill="#1a1a1a" text-anchor="start" stroke="#1a1a1a" stroke-width="0.45" stroke-linejoin="round" textLength="54" lengthAdjust="spacingAndGlyphs">Define KPIs</text>
<rect x="1008.4" y="362.4" width="59" height="61" rx="2" fill="#fdfdfb" stroke="#262626" stroke-width="2"/>
<path d="M1010,377.6 L1010,366 Q1010,363.4 1013,363.4 L1063,363.4 Q1066.4,363.4 1066.4,366 L1066.4,377.6 Z" fill="#f07772"/>
<path d="M1009,377.6 L1067,377.6" stroke="#262626" stroke-width="1.8"/>
<rect x="1021" y="356" width="4.5" height="13" rx="2.2" fill="#e8e8e8" stroke="#262626" stroke-width="1.6"/><rect x="1053" y="356" width="4.5" height="13" rx="2.2" fill="#e8e8e8" stroke="#262626" stroke-width="1.6"/>
<text x="1027" y="397.9" font-size="19.5" fill="#141414" text-anchor="start" stroke="#141414" stroke-width="0.5" stroke-linejoin="round" textLength="19.5" lengthAdjust="spacingAndGlyphs">Q3</text>
<text x="1018" y="416.4" font-size="19.5" fill="#141414" text-anchor="start" stroke="#141414" stroke-width="0.5" stroke-linejoin="round" textLength="37.5" lengthAdjust="spacingAndGlyphs">2024</text>
<defs><linearGradient id="gg" x1="0" y1="0" x2="1" y2="0"><stop offset="0" stop-color="#b3c6e8"/><stop offset="1" stop-color="#9b8dd6"/></linearGradient></defs>
<ellipse cx="1108" cy="350" rx="22" ry="16" fill="#f9f9f5" opacity="0.85" filter="url(#soft)"/>
<path d="M1071,325 A37,37 0 0 1 1145,325 L1131,325 A23,23 0 0 0 1085,325 Z" fill="url(#gg)" stroke="#1e1e1e" stroke-width="2" stroke-linejoin="round"/>
<path d="M1104,323 L1127,306 L1110,329 Z" fill="#6c6c6c" stroke="#1e1e1e" stroke-width="1.4" stroke-linejoin="round"/>
<path d="M1147,278 A37,37 0 0 1 1221,278 L1207,278 A23,23 0 0 0 1161,278 Z" fill="url(#gg)" stroke="#1e1e1e" stroke-width="2" stroke-linejoin="round"/>
<path d="M1180,277 L1196,254 L1188,280 Z" fill="#6c6c6c" stroke="#1e1e1e" stroke-width="1.4" stroke-linejoin="round"/>
<text x="1108" y="343" font-size="14.5" fill="#1a1a1a" text-anchor="middle" stroke="#1a1a1a" stroke-width="0.4" stroke-linejoin="round" >CSAT:</text>
<text x="1107" y="361" font-size="14.5" fill="#1a1a1a" text-anchor="middle" stroke="#1a1a1a" stroke-width="0.4" stroke-linejoin="round" >87%</text>
<text x="1147" y="296" font-size="14.5" fill="#1a1a1a" text-anchor="start" stroke="#1a1a1a" stroke-width="0.4" stroke-linejoin="round" >Conversion</text>
<text x="1160" y="313" font-size="14.5" fill="#1a1a1a" text-anchor="start" stroke="#1a1a1a" stroke-width="0.4" stroke-linejoin="round" >+12.4%</text>
<path d="M1139,404 A46,46 0 0 1 1228,388 L1215,393 A32,32 0 0 0 1153,404 Z" fill="#aa9cdb" stroke="#1e1e1e" stroke-width="2" stroke-linejoin="round"/>
<path d="M1228,420 A46,46 0 0 1 1149.8,433.6 L1149,440.5 L1147.5,414 L1172,420.4 L1160.5,424.6 A32,32 0 0 0 1215,415 Z" fill="#aa9cdb" stroke="#1e1e1e" stroke-width="2" stroke-linejoin="round"/>
<path d="M-5,145 L26,145 C33,145 33,134 25,133 C24,124 16,122 10,126 C6,116 -4,115 -5,118 Z" fill="url(#cloudg)" stroke="#3a3a3a" stroke-width="1.8" stroke-linejoin="round"/>
<path d="M1146,158 C1138,158 1138,145 1150,143 C1154,136 1162,134 1168,137 C1172,125 1184,117 1196,117 L1205,117 L1205,157 Z" fill="url(#cloudg)" stroke="#3a3a3a" stroke-width="1.8" stroke-linejoin="round"/>
<path d="M-5,677.5 L54,677.5 C60,677 60,666 50,664.5 C47,664 44,665 43,665 C43,659 37,655 31,659 C31,649 22,643 13,649 C12,640 2,635 -5,639 Z" fill="url(#cloudg)" stroke="#3a3a3a" stroke-width="1.8" stroke-linejoin="round"/>
<path d="M378,645 C368,645 370,632 382,630 C382,620 394,614 410,619 C414,604 432,598 442,610 C452,606 462,612 462,626 C472,628 476,644 466,645 Z" fill="url(#cloudg)" stroke="#3a3a3a" stroke-width="1.8" stroke-linejoin="round"/>
<polygon points="13.0,70.0 17.2,80.2 28.2,81.1 19.8,88.2 22.4,98.9 13.0,93.2 3.6,98.9 6.2,88.2 -2.2,81.1 8.8,80.2" fill="#f3d58a" stroke="#3a3530" stroke-width="1.8" stroke-linejoin="round"/>
<polygon points="191.4,174.3 199.0,186.2 213.1,184.9 204.1,195.8 209.7,208.7 196.6,203.6 186.0,212.9 186.9,198.8 174.7,191.6 188.4,188.1" fill="#f4dea0" stroke="#3a3530" stroke-width="1.8" stroke-linejoin="round"/>
<polygon points="1012.9,178.5 1019.3,191.9 1034.1,192.3 1023.4,202.5 1027.5,216.7 1014.5,209.7 1002.3,218.0 1004.9,203.5 993.2,194.4 1007.9,192.5" fill="#a9dbd0" stroke="#3a3530" stroke-width="2" stroke-linejoin="round"/>
<polygon points="44.5,611.8 48.1,620.4 57.3,621.1 50.3,627.2 52.4,636.2 44.5,631.4 36.6,636.2 38.7,627.2 31.7,621.1 40.9,620.4" fill="#a8dbc8" stroke="#3a3530" stroke-width="1.6" stroke-linejoin="round"/>
<polygon points="470.9,583.5 472.3,593.7 482.0,597.2 472.7,601.7 472.4,612.0 465.2,604.6 455.3,607.4 460.2,598.4 454.4,589.8 464.6,591.7" fill="#cfe5d2" stroke="#3a3530" stroke-width="1.6" stroke-linejoin="round"/>
<polygon points="783.0,618.0 788.3,630.9 802.3,632.0 791.7,641.1 794.9,654.7 783.0,647.4 771.1,654.7 774.3,641.1 763.7,632.0 777.7,630.9" fill="#f3d27a" stroke="#3a3530" stroke-width="1.9" stroke-linejoin="round"/>
<polygon points="856.5,658.0 859.6,666.4 868.5,667.4 861.5,673.0 863.3,681.8 855.8,676.9 848.0,681.2 850.3,672.6 843.8,666.6 852.7,666.1" fill="#f3d27a" stroke="#3a3530" stroke-width="1.7" stroke-linejoin="round"/>
<path d="M978,214 C970,216 970,228 980,229 M976,229 C970,232 972,240 980,239 M983,224 L990,224 M984,237 L990,237" fill="none" stroke="#333" stroke-width="1.3" stroke-linecap="round"/>
<circle cx="966" cy="240" r="1" fill="#333"/><circle cx="993" cy="238" r="1" fill="#333"/>
<path d="M90,565 C105,585 120,595 142,598" fill="none" stroke="#555" stroke-width="2.2" stroke-linecap="round"/>
<path d="M131,590 L143,598 L131,604" fill="none" stroke="#555" stroke-width="2.2" stroke-linecap="round" stroke-linejoin="round"/>
<path d="M325,570 C338,555 350,542 362,530" fill="none" stroke="#555" stroke-width="2.2" stroke-linecap="round"/>
<path d="M352,531 L363,529 L362,540" fill="none" stroke="#555" stroke-width="2.2" stroke-linecap="round" stroke-linejoin="round"/>
<path d="M485,449 C505,455 530,450 550,438" fill="none" stroke="#555" stroke-width="2.2" stroke-linecap="round"/>
<path d="M539,437 L551,437 L545,448" fill="none" stroke="#555" stroke-width="2.2" stroke-linecap="round" stroke-linejoin="round"/>
<path d="M680,457 C695,470 712,477 733,477" fill="none" stroke="#555" stroke-width="2.2" stroke-linecap="round"/>
<path d="M723,470 L734,477 L723,484" fill="none" stroke="#555" stroke-width="2.2" stroke-linecap="round" stroke-linejoin="round"/>
<path d="M844,552 C852,572 868,590 891,595" fill="none" stroke="#555" stroke-width="2.2" stroke-linecap="round"/>
<path d="M880,588 L892,595 L880,600" fill="none" stroke="#555" stroke-width="2.2" stroke-linecap="round" stroke-linejoin="round"/>
<path d="M1078,596 C1095,585 1112,575 1126,563" fill="none" stroke="#555" stroke-width="2.2" stroke-linecap="round"/>
<path d="M1115,563 L1127,562 L1125,573" fill="none" stroke="#555" stroke-width="2.2" stroke-linecap="round" stroke-linejoin="round"/>
<circle cx="232.5" cy="607" r="5.3" fill="#fff" stroke="#1a1a1a" stroke-width="1.8"/><circle cx="248" cy="607" r="5.3" fill="#fff" stroke="#1a1a1a" stroke-width="1.8"/>
<path d="M231,616 C238,614 246,614 252,616 C255,618 255,626 252,628.6 C245,630 236,630 231,628.6 C228,626 228,618 231,616 Z" fill="#fbf6f6" stroke="#1a1a1a" stroke-width="1.9"/>
<path d="M232,632.5 L252,632.5 M232,635 L252,635 M236,631 L236,638 M249,631 L249,638" stroke="#1a1a1a" stroke-width="1.3"/>
<circle cx="236" cy="641" r="2" fill="#fff" stroke="#1a1a1a" stroke-width="1.4"/><circle cx="249" cy="641" r="2" fill="#fff" stroke="#1a1a1a" stroke-width="1.4"/>
<path d="M449,495 L460,505" stroke="#1a1a1a" stroke-width="6" stroke-linecap="round"/><path d="M449,495 L460,505" stroke="#e8eef0" stroke-width="2.6" stroke-linecap="round"/>
<circle cx="439.8" cy="484.9" r="12.6" fill="#eef3f5" stroke="#1a1a1a" stroke-width="2.6"/><circle cx="439.8" cy="484.9" r="9.2" fill="#f4f6f7" stroke="#1a1a1a" stroke-width="2.2"/>
<rect x="611" y="410" width="23.5" height="32" rx="2" fill="#fcfcfc" stroke="#1a1a1a" stroke-width="2"/>
<path d="M615.5,415.8 h14.5 M615.5,420 h14.5 M615.5,424.2 h14.5 M615.5,428.3 h9 M615.5,433 h4" stroke="#1a1a1a" stroke-width="1.6"/>
<path d="M625,431 C626,428 636,428 638,431 C640,434 639,440 636,442 L627,442 C624,440 623,434 625,431 Z" fill="#f2f2f2" stroke="#1a1a1a" stroke-width="1.7"/><path d="M628,433.5 h8" stroke="#1a1a1a" stroke-width="1.3" stroke-dasharray="2,1"/>
<path d="M798,493.5 L809,493 L804,499 Z" fill="#222" stroke="#1a1a1a" stroke-width="1"/>
<path d="M807,507 L803,522.5 M815,509 L812,522.5 M820.5,508 L820,522.5" stroke="#1a1a1a" stroke-width="2" stroke-linecap="round"/>
<ellipse cx="817" cy="497.5" rx="12.8" ry="11.5" fill="#f8dcb0" stroke="#1a1a1a" stroke-width="1.9"/>
<path d="M818,493 C821,492 824,493 826,494" stroke="#b08040" stroke-width="1.2" fill="none"/>
<path d="M1002,629.5 L1018.6,617.8 L1029.7,628.6 L1016.3,642 L1014,640 C1010,644 1000,650 996,652 C992,653 991,649 993,646 C996,641 1002,636 1005,632 Z" fill="#b3c6ca" stroke="#1a1a1a" stroke-width="1.8" stroke-linejoin="round"/>
<path d="M1010,626 L1020,620 L1027,628 L1016,637 Z" fill="#9fd8d2" opacity="0.8"/>
<path d="M1193,530 C1193,522 1198,518 1204,517 L1204,522 C1200,523 1198,527 1197,531 Z" fill="#c8c8d2" stroke="#1a1a1a" stroke-width="1.6"/>
<path d="M1192,537 L1203,536 L1200,546 Z" fill="#b8bce0" stroke="#1a1a1a" stroke-width="1.6" stroke-linejoin="round"/>
<ellipse cx="598" cy="728" rx="64" ry="6" fill="#a8a8a8" opacity="0.45" filter="url(#soft)"/>
<path d="M652,514 C670,506 685,508 694,502 C700,497 704,492 708,490 C716,515 724,545 733,570 C715,574 695,580 675,590 C668,565 660,540 652,514 Z" fill="#fbfbfa" stroke="#222" stroke-width="2" stroke-linejoin="round"/>
<path d="M683,505 L686,518 M670,530 L675,560 M678,525 C686,522 690,528 694,536 C696,540 698,545 700,546 M702,520 C698,528 696,538 700,546 C704,552 708,552 710,560 L710,575 M690,545 C686,552 684,558 683,562" fill="none" stroke="#333" stroke-width="1.4" stroke-linecap="round"/>
<circle cx="699" cy="511" r="6" fill="#f5c3a0"/><circle cx="671" cy="522" r="6.5" fill="#c6dbe9" stroke="#9cb4c4" stroke-width="1"/><circle cx="685" cy="570" r="6" fill="#f5c3a0"/>
<circle cx="710.5" cy="538.5" r="4.5" fill="#f8eeee" stroke="#c8a8b0" stroke-width="1.2"/><circle cx="717" cy="558" r="4.5" fill="#f8eeee" stroke="#c8a8b0" stroke-width="1.2"/>
<path d="M634,606 C648,596 656,586 664,566" fill="none" stroke="#222" stroke-width="11" stroke-linecap="round"/>
<path d="M634,606 C648,596 656,586 664,566" fill="none" stroke="#f6d2b4" stroke-width="7.5" stroke-linecap="round"/>
<path d="M658,570 C656,560 662,552 668,554 C672,556 674,562 672,570 Z" fill="#f6d2b4" stroke="#222" stroke-width="1.6"/>
<path d="M567,628 C561,642 555,654 551,664" fill="none" stroke="#222" stroke-width="10.5" stroke-linecap="round"/>
<path d="M567,628 C561,642 555,654 551,664" fill="none" stroke="#f6d2b4" stroke-width="7" stroke-linecap="round"/>
<path d="M545,662 C541,668 542,676 546,680 L549,676 L551,680 L554,676 L558,678 C560,672 560,666 556,662 Z" fill="#f6d2b4" stroke="#222" stroke-width="1.5" stroke-linejoin="round"/>
<path d="M580,660 L586,682 L572,700 L562,704 L570,712 L588,706 L602,688 L612,702 L624,716 L640,710 L626,686 L624,660 Z" fill="#6c9bd1" stroke="#222" stroke-width="1.9" stroke-linejoin="round"/>
<path d="M596,672 L602,688" stroke="#222" stroke-width="1.5"/>
<path d="M560,700 C554,706 556,720 566,724 C574,727 584,726 583,718 C581,712 574,710 572,704 Z" fill="#9e6448" stroke="#222" stroke-width="1.7"/>
<path d="M624,708 C626,720 636,726 650,724 C660,722 660,714 652,708 L640,704 Z" fill="#9e6448" stroke="#222" stroke-width="1.7"/>
<path d="M575,607 C590,602 620,598 637,595 L642,613 L625,618 L629,659 L577,662 L575,635 L573,636 L562,625 Z" fill="#f4cd7a" stroke="#222" stroke-width="1.9" stroke-linejoin="round"/>
<circle cx="598.5" cy="558" r="45" fill="#f6d6be" stroke="#222" stroke-width="2.4"/>
<ellipse cx="579" cy="573" rx="9" ry="6" fill="#f19a90" opacity="0.55" filter="url(#soft)"/><ellipse cx="632" cy="561" rx="8" ry="6" fill="#f19a90" opacity="0.55" filter="url(#soft)"/>
<circle cx="586" cy="553.5" r="10.5" fill="#fff" stroke="#222" stroke-width="2"/><circle cx="621" cy="545.5" r="10.5" fill="#fff" stroke="#222" stroke-width="2"/>
<circle cx="592" cy="549.5" r="3" fill="#111"/><circle cx="626" cy="541.5" r="3" fill="#111"/>
<path d="M607,555 C612,555 613,562 607,563" fill="none" stroke="#222" stroke-width="1.7" stroke-linecap="round"/>
<path d="M594,574.5 Q605,582 619,572.5" fill="none" stroke="#222" stroke-width="2" stroke-linecap="round"/>
<path d="M574,539 Q576,534 582,533 M612,526 Q617,523 621.5,525" fill="none" stroke="#222" stroke-width="1.6" stroke-linecap="round"/>
<text transform="scale(0.9,1)" y="541" fill="#111111" stroke="#111111" stroke-width="0.9" stroke-linejoin="round"><tspan x="-29.22" font-size="38">1</tspan><tspan x="-7.11" font-size="38">)</tspan></text>
<text transform="scale(0.9,1)" y="635" fill="#111111" stroke="#111111" stroke-width="0.9" stroke-linejoin="round"><tspan x="210.11" font-size="38">2</tspan><tspan x="230.44" font-size="38">)</tspan></text>
<text transform="scale(0.9,1)" y="502.5" fill="#111111" stroke="#111111" stroke-width="0.9" stroke-linejoin="round"><tspan x="430.89" font-size="38">3</tspan><tspan x="451.00" font-size="38">)</tspan></text>
<text transform="scale(0.9,1)" y="439" fill="#111111" stroke="#111111" stroke-width="0.9" stroke-linejoin="round"><tspan x="632.50" font-size="38">4</tspan><tspan x="652.89" font-size="38">)</tspan></text>
<text transform="scale(0.9,1)" y="518.5" fill="#111111" stroke="#111111" stroke-width="0.9" stroke-linejoin="round"><tspan x="842.89" font-size="38">5</tspan><tspan x="863.78" font-size="38">)</tspan></text>
<text transform="scale(0.9,1)" y="647" fill="#111111" stroke="#111111" stroke-width="0.9" stroke-linejoin="round"><tspan x="1058.89" font-size="38">6</tspan><tspan x="1077.89" font-size="38">)</tspan></text>
<text transform="scale(0.9,1)" y="542.5" fill="#111111" stroke="#111111" stroke-width="0.9" stroke-linejoin="round"><tspan x="1280.39" font-size="38">7</tspan><tspan x="1301.78" font-size="38">)</tspan></text>
<text transform="scale(0.92,1)" y="773.5" fill="#141414" stroke="#141414" stroke-width="1.5" stroke-linejoin="round"><tspan x="226.89" font-size="39.5">D</tspan><tspan x="257.17" font-size="35">a</tspan><tspan x="281.45" font-size="35">t</tspan><tspan x="294.73" font-size="35">a</tspan><tspan x="318.00" font-size="35">-</tspan><tspan x="329.28" font-size="39.5">D</tspan><tspan x="358.56" font-size="35">r</tspan><tspan x="371.84" font-size="35">i</tspan><tspan x="382.12" font-size="35">v</tspan><tspan x="402.40" font-size="35">e</tspan><tspan x="422.67" font-size="35">n</tspan></text>
<text transform="scale(0.92,1)" y="773.5" fill="#141414" stroke="#141414" stroke-width="1.5" stroke-linejoin="round"><tspan x="485.50" font-size="39.5">C</tspan><tspan x="515.51" font-size="35">o</tspan><tspan x="535.51" font-size="35">l</tspan><tspan x="543.52" font-size="35">l</tspan><tspan x="552.53" font-size="35">a</tspan><tspan x="574.54" font-size="35">b</tspan><tspan x="595.54" font-size="35">o</tspan><tspan x="615.55" font-size="35">r</tspan><tspan x="629.56" font-size="35">a</tspan><tspan x="653.57" font-size="35">t</tspan><tspan x="665.57" font-size="35">i</tspan><tspan x="675.58" font-size="35">v</tspan><tspan x="695.59" font-size="35">e</tspan></text>
<text transform="scale(0.92,1)" y="773.5" fill="#141414" stroke="#141414" stroke-width="1.5" stroke-linejoin="round"><tspan x="759.41" font-size="39.5">C</tspan><tspan x="788.16" font-size="35">u</tspan><tspan x="807.90" font-size="35">s</tspan><tspan x="827.64" font-size="35">t</tspan><tspan x="840.38" font-size="35">o</tspan><tspan x="860.12" font-size="35">m</tspan><tspan x="889.87" font-size="35">e</tspan><tspan x="909.61" font-size="35">r</tspan><tspan x="923.35" font-size="35">-</tspan><tspan x="934.09" font-size="39.5">F</tspan><tspan x="959.83" font-size="35">o</tspan><tspan x="980.58" font-size="35">c</tspan><tspan x="999.32" font-size="35">u</tspan><tspan x="1019.06" font-size="35">s</tspan><tspan x="1037.80" font-size="35">e</tspan><tspan x="1058.54" font-size="35">d</tspan></text>
<circle cx="427" cy="760.3" r="4.8" fill="#141414"/><circle cx="679.5" cy="760.3" r="4.8" fill="#141414"/>
</svg>
</body></html>
